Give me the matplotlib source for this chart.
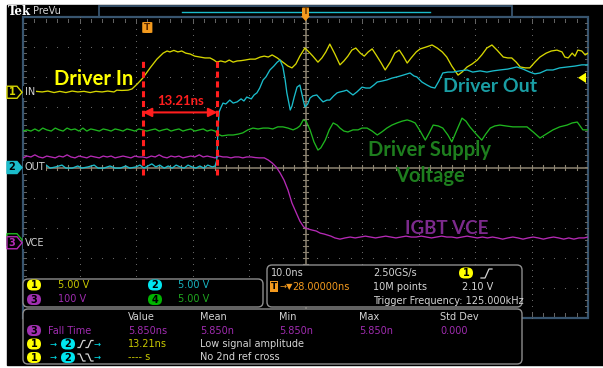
import numpy as np
import matplotlib
matplotlib.use("Agg")
import matplotlib.pyplot as plt
from matplotlib.patches import FancyBboxPatch, Rectangle, Polygon
from matplotlib.transforms import blended_transform_factory

# ---------------- data: time in ns, amplitude in screen divisions ----------------
ch1_t = [0.0,1.2,2.3,3.4,4.4,5.5,6.5,7.6,8.7,9.7,
         10.8,11.9,12.9,14.0,15.0,16.1,16.6,17.5,18.6,19.3,
         20.2,21.2,22.5,23.7,24.8,25.5,26.0,26.7,27.4,28.1,
         28.8,29.6,30.4,31.3,32.2,33.1,33.8,34.3,35.0,35.8,
         36.5,37.2,37.9,38.6,39.3,40.2,41.1,42.0,42.7,43.4,
         44.1,45.0,45.5,46.2,46.9,47.6,48.3,49.0,49.9,50.6,
         51.3,52.2,52.9,53.6,54.3,55.2,56.1,56.8,57.5,58.2,
         58.9,59.7,60.4,61.1,61.8,62.5,63.4,64.1,65.0,65.8,
         66.6,67.3,68.0,68.7,69.6,70.3,71.3,72.4,73.3,74.2,
         75.0,75.9,77.0,77.7,78.6,79.5,80.4,81.2,82.1,83.0,
         83.9,85.0,85.8,86.5,87.3,88.0,88.9,89.7,90.6,91.5,
         92.6,93.5,94.5,95.4,95.9,96.5,97.2,97.7,98.2,98.9,
         99.5,100.0]
ch1_v = [2.51,2.49,2.53,2.51,2.54,2.49,2.53,2.49,2.54,2.51,
         2.53,2.49,2.53,2.51,2.54,2.51,2.57,2.56,2.57,2.61,
         2.77,2.97,3.31,3.60,3.80,3.87,3.84,3.89,3.84,3.87,
         3.80,3.77,3.70,3.67,3.64,3.64,3.57,3.50,3.54,3.50,
         3.57,3.50,3.54,3.55,3.57,3.60,3.60,3.67,3.70,3.67,
         3.74,3.64,3.57,3.47,3.37,3.31,3.44,3.70,3.97,3.84,
         3.70,3.50,3.64,3.84,4.10,3.77,3.41,3.54,3.70,3.90,
         3.97,3.80,3.70,3.84,3.94,3.74,3.47,3.24,3.50,3.80,
         3.90,3.70,3.47,3.64,3.84,3.94,4.00,4.07,3.97,3.84,
         3.67,3.37,3.07,3.17,3.34,3.44,3.57,3.74,3.97,4.07,
         3.90,3.67,3.64,3.64,3.50,3.34,3.31,3.31,3.50,3.67,
         3.80,3.87,3.90,3.84,3.67,3.64,3.80,3.70,3.90,3.87,
         3.74,3.80]

ch2_t = [0.0,1.2,3.0,4.1,4.8,5.8,6.9,7.6,8.7,9.7,
         10.4,11.5,12.6,13.3,14.3,15.4,16.3,17.2,18.2,18.9,
         20.0,20.7,21.4,22.1,22.8,23.5,24.2,25.0,25.7,26.4,
         27.1,27.8,28.5,29.2,29.9,30.6,31.3,32.0,32.7,33.5,
         34.0,34.3,34.5,34.7,35.0,35.4,35.9,36.6,37.2,37.9,
         38.6,39.1,39.6,40.4,40.9,41.4,41.9,42.5,43.0,43.7,
         44.4,45.0,45.5,46.0,46.4,46.7,47.3,47.6,48.0,48.5,
         49.0,49.6,49.9,50.4,50.8,51.3,52.0,52.6,53.1,53.8,
         54.3,55.0,55.6,56.1,56.8,57.3,57.9,58.4,59.1,60.0,
         60.7,61.4,62.1,62.7,63.5,64.4,65.3,66.2,67.3,68.5,
         69.2,69.7,70.6,71.5,72.2,72.9,73.6,74.3,75.2,76.1,
         77.3,78.6,79.6,80.9,82.1,83.2,84.4,85.8,87.4,88.5,
         89.7,90.6,91.5,92.7,93.8,95.0,96.3,97.7,98.9,100.0]
ch2_v = [-0.02,-0.02,0.02,0.08,-0.02,0.02,0.08,-0.02,-0.02,0.05,
         -0.02,0.02,0.08,-0.02,-0.02,0.05,-0.02,-0.02,0.05,-0.02,
         0.02,0.08,-0.02,0.05,0.12,0.02,0.08,-0.02,0.05,-0.02,
         0.08,0.02,-0.02,0.08,0.02,-0.02,0.05,-0.02,0.08,0.02,
         0.05,0.25,1.25,1.84,1.98,2.14,2.11,2.24,2.14,2.18,
         2.28,2.21,2.34,2.28,2.41,2.48,2.64,2.91,3.01,3.24,
         3.37,3.50,3.57,3.34,2.91,2.48,1.91,2.04,2.34,2.67,
         2.74,2.24,2.01,2.11,2.31,2.38,2.41,2.28,2.18,2.24,
         2.24,2.38,2.48,2.51,2.54,2.57,2.48,2.41,2.51,2.67,
         2.64,2.64,2.74,2.84,2.87,2.91,2.97,3.01,3.07,3.14,
         3.04,3.01,2.84,2.74,2.67,2.64,2.87,3.14,3.17,3.17,
         3.21,3.24,3.17,3.21,3.17,3.21,3.24,3.27,3.34,3.27,
         3.17,3.11,3.14,3.24,3.24,3.31,3.34,3.37,3.41,3.41]

ch3_t = [0.0,0.7,1.4,2.1,2.8,3.5,4.2,5.0,5.7,6.4,
         7.1,7.8,8.5,9.2,9.9,10.6,11.3,12.0,12.7,13.5,
         14.2,14.9,15.6,16.3,17.0,17.7,18.4,19.1,19.8,20.5,
         21.2,21.9,22.7,23.4,24.1,24.8,25.5,26.2,26.9,27.6,
         28.3,29.0,29.7,30.4,31.2,31.9,32.6,33.3,34.0,34.7,
         35.4,36.1,36.8,37.5,38.2,38.9,39.6,40.4,41.1,41.8,
         42.7,43.4,44.1,44.8,45.5,46.2,46.9,47.6,48.3,49.0,
         49.7,50.4,51.2,51.9,52.6,53.3,53.8,54.5,55.2,56.1,
         57.0,57.9,58.8,59.7,60.6,61.5,62.4,63.3,64.2,65.1,
         66.0,66.9,67.8,68.7,69.6,70.5,71.4,72.3,73.2,74.1,
         75.0,75.9,76.8,77.7,78.6,79.5,80.4,81.3,82.2,83.1,
         84.0,84.9,85.8,86.7,87.6,88.5,89.4,90.3,91.2,92.1,
         93.0,93.9,94.8,95.7,96.6,97.5,98.4,99.3,100.0]
ch3_v = [0.32,0.38,0.35,0.42,0.35,0.32,0.38,0.35,0.32,0.38,
         0.35,0.42,0.35,0.32,0.38,0.35,0.32,0.38,0.35,0.32,
         0.38,0.35,0.38,0.32,0.35,0.38,0.35,0.32,0.38,0.35,
         0.35,0.32,0.38,0.35,0.42,0.35,0.32,0.38,0.35,0.38,
         0.32,0.35,0.38,0.35,0.42,0.35,0.38,0.35,0.32,0.38,
         0.35,0.35,0.32,0.35,0.35,0.32,0.35,0.35,0.33,0.32,
         0.32,0.25,0.15,0.02,-0.18,-0.42,-0.75,-1.18,-1.48,-1.78,
         -1.98,-2.04,-2.08,-2.11,-2.18,-2.21,-2.24,-2.28,-2.34,-2.38,
         -2.34,-2.31,-2.34,-2.31,-2.28,-2.31,-2.34,-2.31,-2.28,-2.31,
         -2.34,-2.31,-2.28,-2.31,-2.31,-2.28,-2.31,-2.34,-2.31,-2.28,
         -2.31,-2.31,-2.34,-2.31,-2.28,-2.31,-2.34,-2.31,-2.34,-2.31,
         -2.34,-2.38,-2.34,-2.31,-2.34,-2.38,-2.34,-2.31,-2.34,-2.38,
         -2.34,-2.31,-2.34,-2.38,-2.34,-2.38,-2.34,-2.34,-2.31]

ch4_t = [0.0,0.7,1.4,2.1,2.8,3.5,4.2,5.0,5.7,6.4,
         7.1,7.8,8.5,9.2,9.9,10.6,11.3,12.0,12.7,13.5,
         14.2,14.9,15.6,16.3,17.0,17.7,18.4,19.1,19.8,20.5,
         21.2,21.9,22.7,23.4,24.1,24.8,25.5,26.2,26.9,27.6,
         28.3,29.0,29.7,30.4,31.2,31.9,32.6,33.3,34.0,
         34.5,35.2,36.3,37.2,38.1,38.9,39.8,40.7,41.6,42.5,
         43.4,44.2,45.1,46.0,46.9,47.8,48.5,49.0,49.6,50.1,
         50.8,51.5,52.2,52.7,53.5,54.2,54.9,55.6,56.1,56.8,
         57.5,58.4,59.3,60.0,60.9,61.8,62.7,63.5,64.4,65.3,
         66.2,67.1,68.0,68.7,69.4,70.3,71.2,71.9,72.6,73.5,
         74.3,75.2,75.9,76.8,77.7,78.4,79.1,80.2,81.2,81.9,
         82.7,83.5,84.4,85.5,86.7,88.0,89.2,90.3,91.5,92.6,
         93.8,95.0,96.3,97.2,98.1,98.6,99.1,100.0]
ch4_v = [1.21,1.25,1.21,1.28,1.21,1.31,1.25,1.21,1.31,1.25,
         1.21,1.31,1.25,1.28,1.21,1.31,1.21,1.28,1.25,1.21,
         1.28,1.25,1.21,1.28,1.25,1.21,1.28,1.25,1.21,1.28,
         1.25,1.21,1.25,1.28,1.21,1.25,1.28,1.21,1.25,1.28,
         1.21,1.25,1.28,1.21,1.25,1.28,1.21,1.25,1.21,
         1.11,1.05,1.08,1.08,1.11,1.15,1.25,1.31,1.28,1.31,
         1.31,1.28,1.35,1.35,1.31,1.25,1.31,1.38,1.58,1.54,
         1.25,0.85,0.58,0.65,0.91,1.25,1.48,1.41,1.31,1.21,
         1.18,1.25,1.25,1.31,1.31,1.21,1.08,1.18,1.31,1.41,
         1.48,1.54,1.58,1.54,1.48,1.21,0.91,1.15,1.41,1.38,
         1.31,1.08,0.85,1.25,1.64,1.54,1.35,1.11,0.91,1.11,
         1.31,1.38,1.41,1.38,1.35,1.35,1.35,1.18,0.98,1.11,
         1.25,1.35,1.41,1.48,1.51,1.38,1.25,1.25]

channel_offsets_div = {1: 2.5, 2: 0.0, 4: -2.4, 3: -2.5}
channel_labels = {1: "IN", 2: "OUT", 3: "VCE"}
cursor_a_ns = 21.2
cursor_delta_ns = 13.21
cursor_span_div = (-0.25, 3.57)
arrow_level_div = 1.83
trigger_ns = 22.0
trigger_level_div = 2.98

C1, C2, C3, C4 = "#d6d600", "#1bbccb", "#b52ab5", "#1fb51f"
GRAT = "#666666"
FRAME = "#38556f"
CROSS = "#8d8472"
UI = "#d4d4d4"
ORANGE = "#f39a1e"
RED = "#ff1e1e"
UIFONT = ["Liberation Sans Narrow", "DejaVu Sans"]
ANFONT = ["Lato", "DejaVu Sans"]

W, H, DPI = 603, 368, 100
fig = plt.figure(figsize=(W / DPI, H / DPI), dpi=DPI, facecolor="white")

base = fig.add_axes([0, 0, 1, 1], zorder=0)
base.set_xlim(0, W); base.set_ylim(H, 0); base.axis("off")
base.add_patch(Rectangle((7, 5), W - 7, 360, color="black"))

GL, GR, GT, GB = 23, 588, 17, 318
ax = fig.add_axes([GL / W, 1 - GB / H, (GR - GL) / W, (GB - GT) / H], zorder=1)
ax.set_xlim(0, 100); ax.set_ylim(-5, 5); ax.axis("off"); ax.patch.set_alpha(0)

top = fig.add_axes([0, 0, 1, 1], zorder=2)
top.set_xlim(0, W); top.set_ylim(H, 0); top.axis("off"); top.patch.set_alpha(0)

# ---------------- graticule ----------------
for xv in range(10, 100, 10):
    if xv == 50:
        continue
    ys = np.arange(-5, 5.001, 0.2)
    ax.plot(np.full_like(ys, xv), ys, ls="none", marker="s", ms=0.75, mew=0, color=GRAT)
for yv in range(-4, 5):
    if yv == 0:
        continue
    xs = np.arange(0, 100.001, 2)
    ax.plot(xs, np.full_like(xs, yv), ls="none", marker="s", ms=0.75, mew=0, color=GRAT)
for xv in np.arange(2, 100, 2):
    ax.plot([xv, xv], [4.93, 4.85], color=GRAT, lw=0.7)
    ax.plot([xv, xv], [-4.93, -4.85], color=GRAT, lw=0.7)
for yv in np.arange(-4.8, 5, 0.2):
    ax.plot([0.15, 0.6], [yv, yv], color=GRAT, lw=0.7)
    ax.plot([99.4, 99.85], [yv, yv], color=GRAT, lw=0.7)
ax.plot([0, 100], [0, 0], color=CROSS, lw=1.1)
ax.plot([50, 50], [-5, 5], color=CROSS, lw=1.1)
for xv in np.arange(2, 100, 2):
    ax.plot([xv, xv], [-0.07, 0.07], color=CROSS, lw=0.8)
for yv in np.arange(-4.8, 5, 0.2):
    ax.plot([49.6, 50.4], [yv, yv], color=CROSS, lw=0.8)
ax.add_patch(Rectangle((0, -5), 100, 10, fill=False, ec=FRAME, lw=1.6, clip_on=False))

# ---------------- traces ----------------
def trace(t, v, c):
    n = min(len(t), len(v))
    ax.plot(t[:n], v[:n], color=c, lw=0.95, solid_joinstyle="round")

trace(ch1_t, ch1_v, C1)
trace(ch3_t, ch3_v, C3)
trace(ch4_t, ch4_v, C4)
trace(ch2_t, ch2_v, C2)

c2 = cursor_a_ns + cursor_delta_ns
for cx in (cursor_a_ns, c2):
    ax.plot([cx, cx], list(cursor_span_div), color=RED, lw=2.2, ls=(0, (2.0, 1.2)))
ax.annotate("", xy=(cursor_a_ns, arrow_level_div), xytext=(c2, arrow_level_div),
            arrowprops=dict(arrowstyle="<|-|>", color=RED, lw=1.5, mutation_scale=13,
                            shrinkA=0, shrinkB=0))

# ---------------- channel markers ----------------
btr = blended_transform_factory(top.transData, ax.transData)
def ch_marker(ch, color, filled, show_num=True):
    y = channel_offsets_div[ch]
    h = 0.2
    poly = Polygon([(7, y - h), (17, y - h), (22, y), (17, y + h), (7, y + h)], closed=True,
                   transform=btr, fc=color if filled else "black", ec=color, lw=1.0, zorder=5)
    top.add_patch(poly)
    if show_num:
        top.text(12, y, str(ch), transform=btr, ha="center", va="center", fontsize=7,
                 color="black" if filled else color, fontfamily=UIFONT, fontweight="bold", zorder=6)
    if ch in channel_labels:
        top.text(24.5, y, channel_labels[ch], transform=btr, ha="left", va="center",
                 fontsize=7, color=UI, fontfamily=UIFONT, zorder=6,
                 bbox=dict(boxstyle="square,pad=0.12", fc="black", ec="none"))

ch_marker(4, C4, False, show_num=False)
ch_marker(1, C1, False)
ch_marker(2, C2, True)
ch_marker(3, C3, False)

top.add_patch(Polygon([(578, trigger_level_div), (586, trigger_level_div + 0.17),
                       (586, trigger_level_div - 0.17)], transform=btr, fc="#ffff00", ec="none", zorder=5))

btx = blended_transform_factory(ax.transData, top.transData)
top.add_patch(FancyBboxPatch((trigger_ns - 0.9, 22), 1.8, 11, boxstyle="round,pad=0,rounding_size=0.5",
                             transform=btx, fc=ORANGE, ec="none", zorder=5))
top.text(trigger_ns, 27.8, "T", transform=btx, ha="center", va="center", fontsize=6.5,
         color="#5a2a00", fontweight="bold", fontfamily=UIFONT, zorder=6)
top.add_patch(FancyBboxPatch((302, 7), 7, 10, boxstyle="round,pad=0,rounding_size=2",
                             fc=ORANGE, ec="none", zorder=5))
top.add_patch(Polygon([(301, 16), (310, 16), (305.5, 21)], fc=ORANGE, ec="none", zorder=5))
top.text(305.5, 11.5, "T", ha="center", va="center", fontsize=6, color="#6a3a00",
         fontweight="bold", fontfamily=UIFONT, zorder=6)

# ---------------- header ----------------
top.text(8, 11.5, "Tek", ha="left", va="center", fontsize=8.5, color="white",
         fontfamily="DejaVu Serif", fontweight="bold")
top.text(33, 11.5, "PreVu", ha="left", va="center", fontsize=7, color=UI, fontfamily=UIFONT)
top.add_patch(Rectangle((99, 6), 413, 11, fill=False, ec=FRAME, lw=1.3))
top.plot([182, 430], [11.5, 11.5], color=C2, lw=1.0)

# ---------------- annotations ----------------
top.text(94, 79, "Driver In", ha="center", va="center", fontsize=14.5, color="#ffff00",
         fontweight="bold", fontfamily=ANFONT)
top.text(181, 101, "13.21ns", ha="center", va="center", fontsize=9.5, color=RED,
         fontweight="bold", fontfamily=ANFONT)
top.text(490, 87, "Driver Out", ha="center", va="center", fontsize=14, color="#1a9ea4",
         fontweight="bold", fontfamily=ANFONT)
top.text(430, 150, "Driver Supply", ha="center", va="center", fontsize=14.5, color="#1e7e1e",
         fontweight="bold", fontfamily=ANFONT)
top.text(430, 176, "Voltage", ha="center", va="center", fontsize=14.5, color="#1e7e1e",
         fontweight="bold", fontfamily=ANFONT)
top.text(447, 228, "IGBT VCE", ha="center", va="center", fontsize=13.5, color="#7c2a8c",
         fontweight="bold", fontfamily=ANFONT)

# ---------------- readout panels ----------------
def panel(x0, y0, x1, y1):
    top.add_patch(FancyBboxPatch((x0, y0), x1 - x0, y1 - y0, boxstyle="round,pad=0,rounding_size=5",
                                 fc="black", ec="#8e8e8e", lw=1.0, zorder=3))

def badge(cx, cy, num, color):
    top.add_patch(FancyBboxPatch((cx - 7, cy - 5.5), 14, 11, boxstyle="round,pad=0,rounding_size=5.5",
                                 fc=color, ec="none", zorder=4))
    top.text(cx, cy + 0.3, str(num), ha="center", va="center", fontsize=7, color="black",
             fontweight="bold", fontfamily=UIFONT, zorder=5)

def ui(x, y, s, c=UI, **kw):
    top.text(x, y, s, ha="left", va="center", fontsize=7, color=c, fontfamily=UIFONT, zorder=5, **kw)

panel(23, 279, 263, 307)
panel(267, 265, 522, 307)
panel(23, 309, 522, 364)

BY, BC, BP, BG = "#ffff00", "#00e6f0", "#a030b0", "#00b400"
TY, TC, TP, TG = "#c8c800", "#18b4c0", "#a02cb0", "#1fa81f"
badge(34, 285, 1, BY); ui(58, 285, "5.00 V", TY)
badge(155, 285, 2, BC); ui(178, 285, "5.00 V", TC)
badge(34, 299.5, 3, BP); ui(58, 299.5, "100 V", TP)
badge(155, 299.5, 4, BG); ui(178, 299.5, "5.00 V", TG)

ui(271, 273, "10.0ns"); ui(373, 273, "2.50GS/s")
badge(466, 273, 1, BY)
top.plot([481, 485, 489, 492], [278, 278, 269, 269], color=UI, lw=0.9, zorder=5)
top.add_patch(Rectangle((270, 281), 8, 11, fc=ORANGE, ec="none", zorder=4))
top.text(274, 286.6, "T", ha="center", va="center", fontsize=6.5, color="black",
         fontweight="bold", fontfamily=UIFONT, zorder=5)
top.text(280, 286.5, "\u2192\u25bc", ha="left", va="center", fontsize=6, color=ORANGE,
         fontfamily=["DejaVu Sans"], zorder=5)
ui(292, 286.5, "28.00000ns", ORANGE)
ui(373, 286.5, "10M points"); ui(462, 286.5, "2.10 V")
ui(373, 300.5, "Trigger Frequency: 125.000kHz")

cols = [128, 200, 279, 359, 440]
for x, s in zip(cols, ["Value", "Mean", "Min", "Max", "Std Dev"]):
    ui(x, 317, s)
badge(34, 330.5, 3, BP); ui(48, 330.5, "Fall Time", TP)
for x, s in zip(cols, ["5.850ns", "5.850n", "5.850n", "5.850n", "0.000"]):
    ui(x, 330.5, s, TP)

for cy, rising, val, msg in [(344, True, "13.21ns", "Low signal amplitude"),
                             (357.5, False, "---- s", "No 2nd ref cross")]:
    badge(34, cy, 1, BY)
    top.text(49, cy, "\u2192", ha="left", va="center", fontsize=6, color=BC,
             fontfamily=["DejaVu Sans"], zorder=5)
    badge(68, cy, 2, BC)
    d = -1 if rising else 1
    for x0 in (78, 86):
        top.plot([x0, x0 + 2, x0 + 5, x0 + 7], [cy - d * 3.5, cy - d * 3.5, cy + d * 3.5, cy + d * 3.5],
                 color=UI, lw=0.9, zorder=5)
    top.text(94, cy, "\u2192", ha="left", va="center", fontsize=6, color=BC,
             fontfamily=["DejaVu Sans"], zorder=5)
    ui(128, cy, val, TY)
    ui(200, cy, msg)

fig.savefig("out.png", dpi=DPI, facecolor=fig.get_facecolor())
